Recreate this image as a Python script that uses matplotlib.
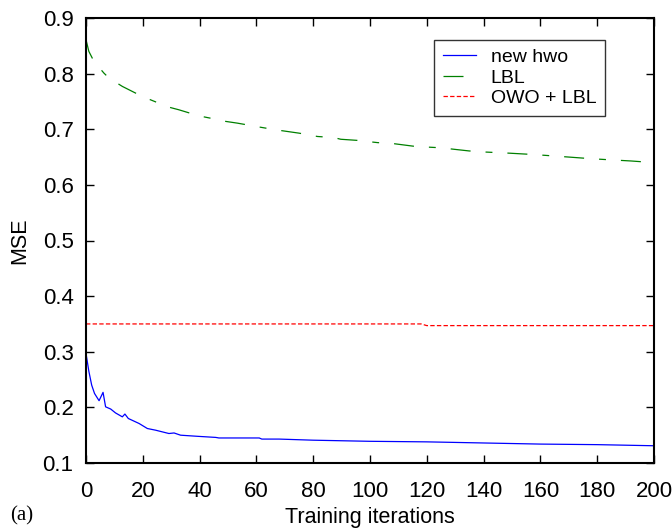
import matplotlib
matplotlib.use("Agg")
import matplotlib.pyplot as plt

plt.rcParams['font.family'] = ['Liberation Sans', 'DejaVu Sans']

# new hwo
hwo_x = [0, 1, 2, 3, 4.6, 6, 6.9, 8.7, 10.4, 12.8, 13.7, 14.9, 18.7, 21.6, 24.5,
         29.2, 31, 33.3, 39.2, 45.7, 46.8, 61, 61.9, 68, 80, 100, 120, 140, 160,
         180, 190, 200]
hwo_y = [0.297, 0.265, 0.240, 0.225, 0.212, 0.227, 0.201, 0.197, 0.190, 0.183,
         0.188, 0.180, 0.171, 0.162, 0.159, 0.153, 0.154, 0.150, 0.148, 0.146,
         0.145, 0.145, 0.143, 0.143, 0.141, 0.139, 0.138, 0.136, 0.134, 0.133,
         0.132, 0.131]

# LBL
lbl_x = [0, 1, 2.8, 6.3, 8.1, 12.8, 16.3, 19.8, 25.1, 27.5, 32.7, 39.8, 45.7, 48,
         53.3, 61, 66.8, 75, 81.5, 87.3, 89.7, 95.5, 102.6, 108.5, 116.1, 123.7,
         127.8, 134.9, 140.7, 149, 156, 161.9, 170, 178, 184.7, 191.8, 200]
lbl_y = [0.861, 0.840, 0.822, 0.801, 0.792, 0.777, 0.768, 0.759, 0.748, 0.742,
         0.735, 0.724, 0.718, 0.715, 0.711, 0.704, 0.699, 0.693, 0.687, 0.685,
         0.682, 0.680, 0.676, 0.674, 0.669, 0.667, 0.665, 0.661, 0.659, 0.657,
         0.655, 0.653, 0.650, 0.647, 0.645, 0.643, 0.640]

# OWO + LBL
owo_x = [0, 118, 120, 200]
owo_y = [0.350, 0.350, 0.347, 0.347]

x_ticks = [0, 20, 40, 60, 80, 100, 120, 140, 160, 180, 200]
y_ticks = [0.1, 0.2, 0.3, 0.4, 0.5, 0.6, 0.7, 0.8, 0.9]

fig = plt.figure(figsize=(6.72, 5.29), dpi=100)
ax = fig.add_axes([86/672, 1 - 463/529, (654-86)/672, (463-18)/529])

ax.plot(hwo_x, hwo_y, color='#0000ff', lw=0.9, label='new hwo')
ax.plot(lbl_x, lbl_y, color='#008000', lw=0.9, dashes=(16, 12, 5.5, 12), label='LBL')
ax.plot(owo_x, owo_y, color='#ff0000', lw=0.9, dashes=(3.5, 1.8), label='OWO + LBL')

ax.set_xlim(0, 200)
ax.set_ylim(0.1, 0.9)
ax.set_xticks(x_ticks)
ax.set_yticks(y_ticks)
ax.set_xticklabels([str(t) for t in x_ticks])
ax.set_yticklabels([f"{t:.1f}" for t in y_ticks])
ax.tick_params(direction='in', length=6, width=1, top=True, right=True,
               labelsize=16)
ax.tick_params(axis='x', pad=13)
ax.tick_params(axis='y', pad=9)
for s in ax.spines.values():
    s.set_linewidth(1.5)

ax.set_xlabel('Training iterations', fontsize=15.5, labelpad=3.5)
ax.set_ylabel('MSE', fontsize=15.5, labelpad=9)

leg = ax.legend(loc='upper right', bbox_to_anchor=(0.914, 0.951), fontsize=14,
                frameon=True, fancybox=False, edgecolor='black',
                handlelength=1.7, borderpad=0.45, labelspacing=0.15,
                handletextpad=0.75, borderaxespad=0)
leg.get_frame().set_linewidth(1.0)

fig.text(10/672, 1 - 516/529, '(a)', fontsize=15, family='Liberation Serif',
         va='center', ha='left')

fig.savefig('out.png', dpi=100)
